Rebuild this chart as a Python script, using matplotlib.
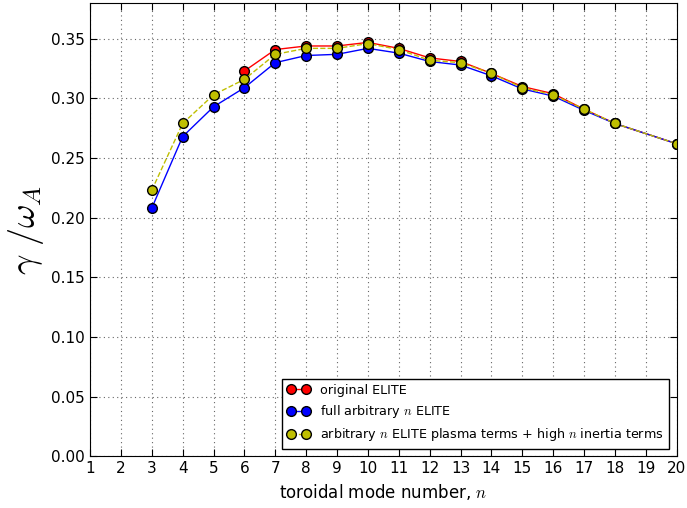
import matplotlib
matplotlib.use("Agg")
import matplotlib.pyplot as plt

plt.rcParams["mathtext.fontset"] = "cm"

n_red = [6, 7, 8, 9, 10, 11, 12, 13, 14, 15, 16, 17, 18, 20]
gamma_red = [0.323, 0.341, 0.344, 0.344, 0.347, 0.342, 0.334, 0.331, 0.321,
             0.310, 0.304, 0.291, 0.279, 0.262]

n_full = [3, 4, 5, 6, 7, 8, 9, 10, 11, 12, 13, 14, 15, 16, 17, 18, 20]
gamma_blue = [0.208, 0.268, 0.293, 0.309, 0.330, 0.336, 0.337, 0.342, 0.338,
              0.331, 0.328, 0.319, 0.308, 0.302, 0.290, 0.279, 0.262]
gamma_yellow = [0.223, 0.279, 0.303, 0.316, 0.337, 0.342, 0.342, 0.346, 0.341,
                0.332, 0.330, 0.321, 0.309, 0.303, 0.291, 0.279, 0.262]

fig = plt.figure(figsize=(6.87, 5.08), dpi=100)
ax = fig.add_axes([0.131, 0.102, 0.854, 0.892])

ax.plot(n_red, gamma_red, "o-", color="r", mec="k", ms=7, lw=1,
        label="original ELITE")
ax.plot(n_full, gamma_blue, "o-", color="b", mec="k", ms=7, lw=1,
        label=r"full arbitrary $n$ ELITE")
ax.plot(n_full, gamma_yellow, "o--", color=(0.75, 0.75, 0), mec="k", ms=7, lw=1,
        label=r"arbitrary $n$ ELITE plasma terms + high $n$ inertia terms")

ax.set_xlim(1, 20)
ax.set_ylim(0, 0.38)
ax.set_xticks(range(1, 21))
ax.set_yticks([0.0, 0.05, 0.10, 0.15, 0.20, 0.25, 0.30, 0.35])
ax.set_yticklabels(["0.00", "0.05", "0.10", "0.15", "0.20", "0.25", "0.30", "0.35"])
ax.tick_params(direction="in", labelsize=11, top=True, right=True, length=5)
ax.grid(True, linestyle=(0, (1, 3)), color="0.4", linewidth=0.8)

ax.set_xlabel(r"toroidal mode number, $n$", fontsize=12)
ax.set_ylabel(r"$\gamma\ /\omega_A$", fontsize=26, labelpad=4)

leg = ax.legend(loc="lower right", fontsize=9.2, numpoints=2, fancybox=False,
                edgecolor="k", framealpha=1, borderaxespad=0.6,
                handlelength=1.8)
leg.get_frame().set_linewidth(1)

fig.savefig("out.png", dpi=100)
